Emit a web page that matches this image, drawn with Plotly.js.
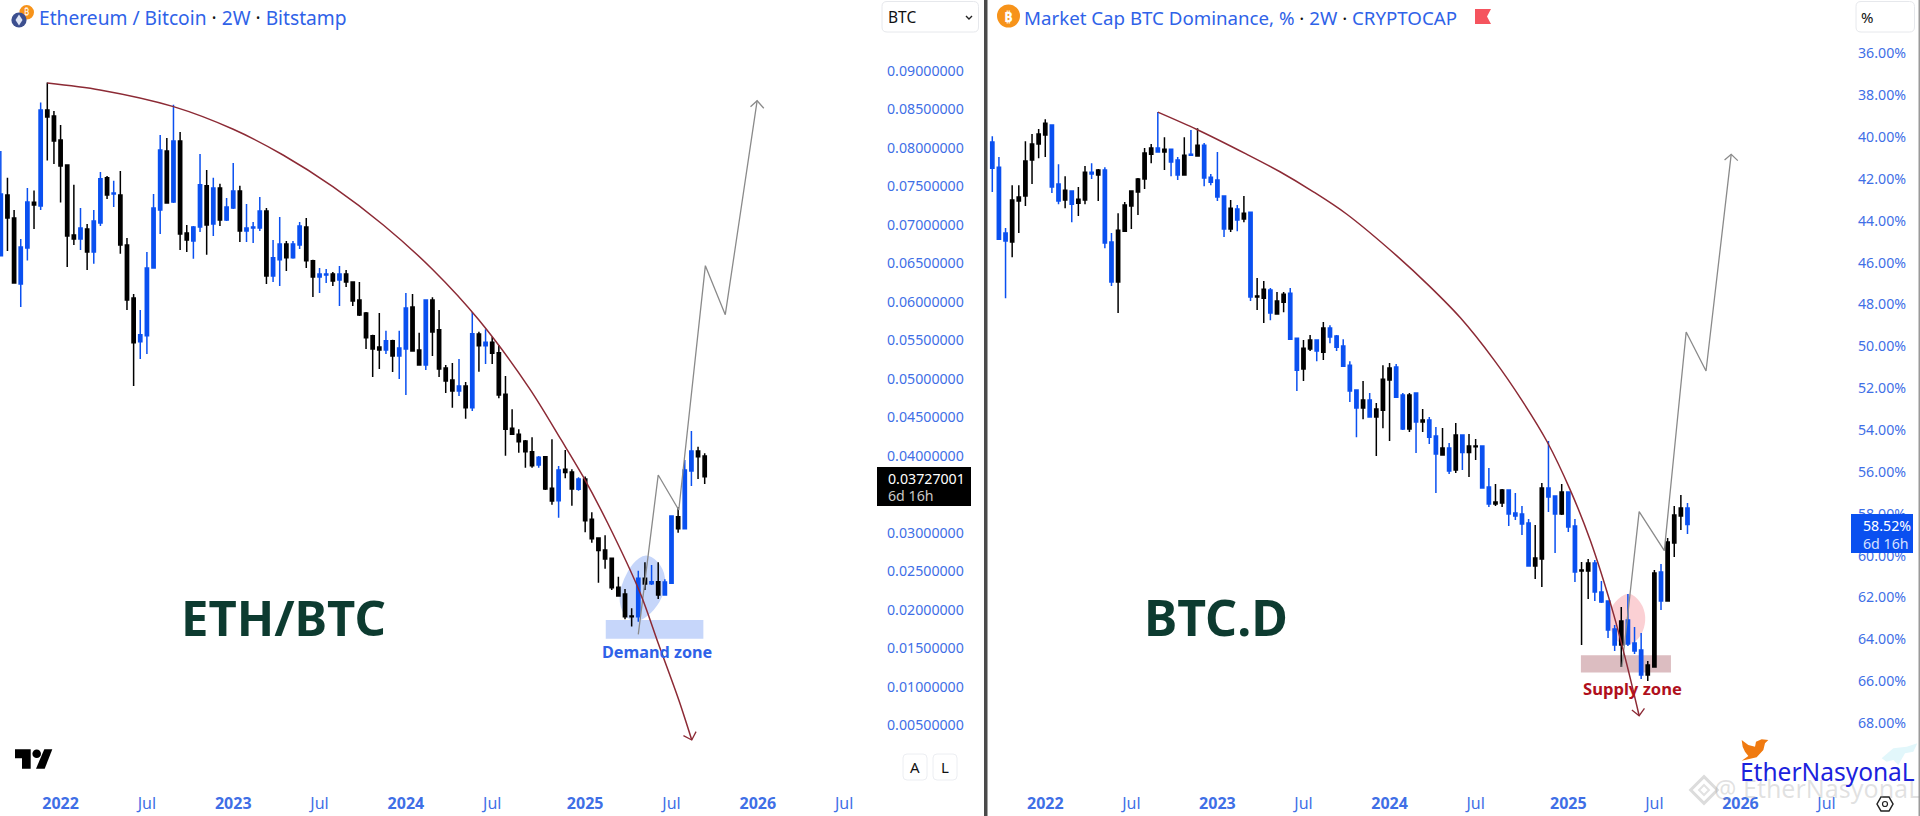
<!DOCTYPE html>
<html><head><meta charset="utf-8">
<script src="https://cdn.plot.ly/plotly-3.0.1.min.js"></script>
<style>html,body{margin:0;padding:0;background:#fff;overflow:hidden}#chart{width:1920px;height:816px}</style>
</head><body><div id="chart"></div>
<script>
const barDates=["2021-08-30","2021-09-13","2021-09-27","2021-10-11","2021-10-25","2021-11-08","2021-11-22","2021-12-06","2021-12-20",
"2022-01-03","2022-01-17","2022-01-31","2022-02-14","2022-02-28","2022-03-14","2022-03-28","2022-04-11","2022-04-25","2022-05-09","2022-05-23","2022-06-06","2022-06-20","2022-07-04","2022-07-18","2022-08-01","2022-08-15","2022-08-29","2022-09-12","2022-09-26","2022-10-10","2022-10-24","2022-11-07","2022-11-21","2022-12-05","2022-12-19",
"2023-01-02","2023-01-16","2023-01-30","2023-02-13","2023-02-27","2023-03-13","2023-03-27","2023-04-10","2023-04-24","2023-05-08","2023-05-22","2023-06-05","2023-06-19","2023-07-03","2023-07-17","2023-07-31","2023-08-14","2023-08-28","2023-09-11","2023-09-25","2023-10-09","2023-10-23","2023-11-06","2023-11-20","2023-12-04","2023-12-18",
"2024-01-01","2024-01-15","2024-01-29","2024-02-12","2024-02-26","2024-03-11","2024-03-25","2024-04-08","2024-04-22","2024-05-06","2024-05-20","2024-06-03","2024-06-17","2024-07-01","2024-07-15","2024-07-29","2024-08-12","2024-08-26","2024-09-09","2024-09-23","2024-10-07","2024-10-21","2024-11-04","2024-11-18","2024-12-02","2024-12-16","2024-12-30",
"2025-01-13","2025-01-27","2025-02-10","2025-02-24","2025-03-10","2025-03-24","2025-04-07","2025-04-21","2025-05-05","2025-05-19","2025-06-02","2025-06-16","2025-06-30","2025-07-14","2025-07-28","2025-08-11","2025-08-25","2025-09-08","2025-09-22"];

const ethOpen=[0.06595,0.07387,0.07088,0.06231,0.06698,0.07291,0.07244,
0.08491,0.08413,0.08101,0.07776,0.06867,0.06815,0.06945,0.06646,0.07023,0.07608,
0.074,0.07387,0.06737,0.06049,0.05478,0.05556,0.06439,0.07192,0.07958,0.07296,
0.08088,0.06893,0.06789,0.06971,0.07504,0.0701,0.07478,0.07062,0.07218,0.07439,
0.06919,0.06958,0.06958,0.07179,0.06335,0.06543,0.0675,0.06569,0.06737,0.06971,
0.0653,0.06322,0.06348,0.06361,0.06283,0.06361,0.06257,0.06023,0.05854,0.05556,
0.05413,0.05374,0.05491,0.05296,0.05387,0.05932,0.05374,0.05179,0.06023,0.05634,
0.0514,0.04984,0.04841,0.04906,0.04621,0.0558,0.05429,0.05472,0.05338,0.04797,
0.04355,0.04277,0.04191,0.04052,0.03879,0.03987,0.03576,0.03416,0.03823,0.03788,
0.03563,0.03697,0.03173,0.02931,0.02775,0.02667,0.0229,0.02204,0.01918,0.01909,
0.02407,0.02338,0.02364,0.02191,0.02342,0.03208,0.03052,0.03801,0.04061,0.03996];
const ethHigh=[0.07958,0.07608,0.07192,0.06815,0.07478,0.07443,0.08586,
0.08846,0.08478,0.08296,0.07776,0.07517,0.07218,0.0701,0.07192,0.07685,0.07633,
0.07569,0.07698,0.06828,0.06101,0.05893,0.06646,0.074,0.08166,0.08127,0.08556,
0.08205,0.06997,0.06984,0.07919,0.07711,0.07608,0.0753,0.07348,0.07802,0.07504,
0.0727,0.07036,0.07361,0.07218,0.06802,0.07101,0.06789,0.06789,0.07036,0.07088,
0.06543,0.06439,0.06426,0.06387,0.06465,0.06413,0.06266,0.06257,0.05867,0.05569,
0.05854,0.05621,0.05504,0.05621,0.06114,0.06101,0.05595,0.06023,0.06058,0.05893,
0.05179,0.05205,0.05257,0.04958,0.05867,0.05611,0.05641,0.05546,0.05438,0.05035,
0.04602,0.04342,0.04204,0.04238,0.03996,0.03996,0.04212,0.03866,0.04074,0.03823,
0.03719,0.03728,0.03264,0.0294,0.02966,0.02667,0.02429,0.02269,0.02018,0.02507,
0.02615,0.0258,0.02615,0.02394,0.03217,0.03329,0.03944,0.04321,0.04117,0.04031];
const ethLow=[0.06586,0.06659,0.06244,0.05932,0.06534,0.06945,0.07192,
0.07833,0.07789,0.07287,0.06452,0.06737,0.06672,0.06413,0.06491,0.06984,0.07335,
0.07231,0.06621,0.05893,0.04906,0.05257,0.05322,0.06439,0.0688,0.07283,0.07283,
0.06672,0.06646,0.06556,0.06906,0.06608,0.06854,0.06984,0.07049,0.07205,0.06776,
0.06776,0.06763,0.06919,0.06231,0.06257,0.06205,0.064,0.06556,0.06685,0.06439,
0.06062,0.06114,0.06244,0.06205,0.05945,0.06192,0.05945,0.05815,0.05387,0.05023,
0.05127,0.05322,0.05088,0.04997,0.04789,0.05361,0.05179,0.05114,0.05296,0.05023,
0.04815,0.04621,0.04776,0.04478,0.04581,0.05091,0.05191,0.05191,0.04745,0.04,
0.04277,0.04039,0.03844,0.03844,0.03844,0.03554,0.03364,0.03195,0.03706,0.03351,
0.03546,0.03005,0.0287,0.02351,0.02533,0.02256,0.02169,0.01875,0.0178,0.01844,
0.02256,0.02321,0.02139,0.02191,0.02334,0.03,0.03052,0.03606,0.03697,0.03632];
const ethClose=[0.074,0.07088,0.06244,0.06711,0.07296,0.07257,0.08491,
0.084,0.08088,0.07763,0.06854,0.06815,0.06958,0.06646,0.07049,0.07595,0.07387,
0.07413,0.06737,0.06023,0.05465,0.05569,0.06439,0.07218,0.07971,0.07283,0.08088,
0.0688,0.06802,0.06971,0.07517,0.06997,0.07478,0.07062,0.07231,0.07439,0.06919,
0.06958,0.06971,0.07179,0.06335,0.06569,0.0675,0.06569,0.0675,0.06984,0.0653,
0.06322,0.06361,0.06361,0.0627,0.06361,0.06257,0.0601,0.05828,0.0553,0.05387,
0.05374,0.05491,0.05296,0.054,0.05919,0.05361,0.05179,0.06023,0.05607,0.05127,
0.04971,0.04841,0.04906,0.04621,0.05582,0.05429,0.05472,0.05329,0.04788,0.04342,
0.04277,0.04182,0.04052,0.0387,0.03979,0.03567,0.03412,0.03814,0.0378,0.03567,
0.03697,0.03156,0.02922,0.02767,0.02658,0.02286,0.02178,0.01909,0.01909,0.02407,
0.02334,0.02364,0.02191,0.0236,0.03217,0.03052,0.03814,0.04061,0.03987,0.03727001];

const domOpen=[40.24,41.44,44.59,45.02,43.06,42.82,41.10,40.34,39.91,39.43,
42.25,43.01,42.58,43.16,43.01,41.68,41.82,41.58,45.02,46.93,
44.50,43.30,42.63,42.01,40.82,40.53,40.72,40.58,41.10,41.82,
40.82,40.91,40.39,41.92,42.06,42.82,44.40,43.44,43.92,43.59,
47.65,47.70,47.31,48.46,47.89,47.46,49.61,51.09,50.13,49.70,
50.28,49.13,49.51,49.99,50.90,52.09,52.95,52.57,53.38,53.05,
51.61,50.99,52.33,53.95,52.23,53.62,53.52,54.29,55.19,54.86,
55.91,54.24,55.08,54.80,54.76,56.72,57.54,57.49,56.87,57.97,
58.01,58.44,60.50,60.16,56.77,57.15,58.01,56.96,58.59,60.74,
60.74,60.35,61.74,62.17,63.51,64.27,63.08,64.18,64.51,65.70,
65.32,60.78,62.17,59.40,58.11,57.73];
const domHigh=[42.63,44.88,47.70,45.74,44.59,43.30,42.25,41.01,40.96,42.68,
43.21,43.40,44.07,43.78,43.21,42.01,43.06,45.31,47.12,48.41,
44.50,44.40,43.73,42.49,41.25,40.72,41.58,41.87,42.06,41.82,
40.91,40.91,42.35,42.30,43.06,44.78,44.54,44.50,44.07,47.84,
48.27,48.89,48.75,48.46,48.37,49.70,52.14,51.66,50.23,50.71,
50.66,49.85,50.23,50.95,52.66,54.34,53.48,53.38,55.24,53.91,
54.53,52.43,54.00,54.10,55.10,54.10,54.67,57.01,55.19,56.10,
56.05,55.91,56.25,55.43,56.77,57.68,57.63,57.68,58.59,58.30,
59.02,60.50,61.12,61.50,57.92,59.88,58.06,58.87,61.26,64.27,
62.07,62.17,62.27,63.94,64.56,65.32,64.32,64.70,65.89,65.99,
65.32,62.60,62.17,60.07,58.78,58.97];
const domLow=[39.96,40.96,44.35,42.30,42.30,40.20,39.86,39.62,39.15,39.43,
41.30,41.87,42.58,42.39,41.39,41.25,41.53,41.44,44.59,43.64,
43.11,42.58,41.96,40.53,40.34,38.81,40.01,40.58,40.96,40.01,
39.67,39.58,40.29,41.77,40.72,42.78,43.01,43.25,42.82,43.59,
46.74,46.88,47.22,47.41,47.41,47.22,49.61,49.70,49.46,49.66,
48.84,48.99,49.46,49.66,50.71,52.09,51.66,52.23,52.71,50.90,
50.80,50.85,52.23,52.23,52.23,53.00,53.38,53.86,53.90,54.62,
53.67,54.24,54.19,54.43,54.76,55.82,56.58,56.82,56.87,57.01,
57.63,58.25,58.54,56.53,54.53,57.15,56.58,56.96,58.25,60.31,
60.16,60.21,61.21,62.17,63.31,62.46,61.83,63.41,63.70,65.04,
60.69,60.40,59.16,57.63,57.11,57.49];
const domClose=[41.49,44.88,44.97,43.01,42.87,41.15,40.34,39.86,39.34,42.39,
43.06,42.54,43.21,42.97,41.68,41.77,41.58,45.07,46.93,44.45,
43.25,42.58,42.01,40.77,40.53,40.72,40.58,41.20,41.82,40.87,
40.87,40.39,41.96,42.16,42.87,44.40,43.40,43.97,43.64,47.65,
47.60,47.27,48.41,47.84,47.51,49.66,51.14,50.09,49.70,50.23,
49.13,49.56,50.04,50.95,52.14,52.95,52.57,53.38,53.00,51.57,
51.04,52.43,53.95,52.33,53.62,53.52,54.34,55.15,54.86,55.96,
54.24,55.08,54.76,54.76,56.77,57.54,57.44,56.87,58.01,58.11,
58.49,60.50,60.12,56.77,57.20,58.01,56.96,58.63,60.78,60.69,
60.35,61.74,62.22,63.55,64.27,63.13,64.22,64.56,65.70,65.23,
60.83,62.17,59.35,58.06,57.73,58.52];

// bar positions are counted in bars from the Dec 2021 bar (left chart) or from the first bar of the right chart
const ethCurveBar=[0,7.94,19,28,35.5,43,50.6,58.1,65,72.6,77.4,80.7,84.4,89.3,92,95.1,97.05];
const ethCurvePrice=[0.0884,0.0875,0.08533,0.08239,0.07905,0.07494,0.06996,0.06412,0.05762,0.04875,0.04204,0.03727,0.03122,0.02213,0.01564,0.00827,0.00308];
const ethCurveHeadBar=[95.8,97.05,97.7];
const ethCurveHeadPrice=[0.00364,0.00308,0.00416];
const ethPathBar=[89,92,95.1,99.1,102.1,106.9];
const ethPathPrice=[0.0168,0.03749,0.03295,0.06468,0.05831,0.0861];
const ethPathHeadBar=[105.9,106.9,107.9];
const ethPathHeadPrice=[0.08532,0.0861,0.08512];
const ethBlobBar=[90,91.8,92.9,92.4,90.8,88.8,87,86.3,87,88.3];
const ethBlobPrice=[0.02688,0.02603,0.02408,0.02169,0.01974,0.01866,0.01953,0.02169,0.02386,0.0258];

const domCurveBar=[25,30.9,38.4,43.45,48.5,53.5,61.1,66.1,70.7,75.8,79.97,83.8,87.3,90.3,93.8,95.8,97.7];
const domCurveValue=[38.81,39.64,40.82,41.66,42.62,43.68,45.68,47.15,48.64,50.66,52.57,54.56,56.87,59.26,62.76,65.15,67.65];
const domCurveHeadBar=[96.6,97.7,98.5];
const domCurveHeadValue=[67.38,67.65,67.30];
const domPathBar=[95.1,97.7,101.5,104.8,107.8,111.6];
const domPathValue=[65.32,57.9,59.76,49.32,51.18,40.83];
const domPathHeadBar=[110.6,111.6,112.6];
const domPathHeadValue=[41.10,40.83,41.13];
const domBlobBar=[96.1,97.8,98.5,98.1,96.8,95.1,93.8,93.2,94.1];
const domBlobValue=[61.83,62.28,62.92,63.63,64.11,64.19,63.71,62.92,62.28];

const ethTicks=[0.005,0.01,0.015,0.02,0.025,0.03,0.035,0.04,0.045,0.05,0.055,0.06,0.065,0.07,0.075,0.08,0.085,0.09];
const domTicks=[36,38,40,42,44,46,48,50,52,54,56,58,60,62,64,66,68];
const timeTickDates=["2022-01-03","2022-07-04","2023-01-02","2023-07-03","2024-01-01","2024-07-01","2025-01-13","2025-07-14","2026-01-12","2026-07-13"];
const timeTickLabels=["<b>2022</b>","Jul","<b>2023</b>","Jul","<b>2024</b>","Jul","<b>2025</b>","Jul","<b>2026</b>","Jul"];

const FONT='"Noto Sans", sans-serif';
const UP='#0a50f0',DOWN='#000000',AXIS='#3f6fe6',CURVE='#8c2a35',PATH='#8a8a8a';
const W=1920,H=816,BOTTOM=785;
const DAY=864e5,ANCHOR=Date.UTC(2021,11,6);
const barTime=b=>new Date(ANCHOR+b*14*DAY).toISOString().slice(0,19).replace('T',' ');
const leftX=a=>a.map(b=>barTime(b));
const rightX=a=>a.map(b=>barTime(b-6));
const px=x=>x/W, py=y=>1-y/H;

function candles(x,o,h,l,c,xa,ya){
  return {type:'candlestick',x:x,open:o,high:h,low:l,close:c,xaxis:xa,yaxis:ya,whiskerwidth:0,hoverinfo:'skip',showlegend:false,
    increasing:{line:{color:UP,width:1.5},fillcolor:UP},decreasing:{line:{color:DOWN,width:1.5},fillcolor:DOWN}};
}
function line(x,y,xa,ya,color,w,shape){
  return {type:'scatter',mode:'lines',x:x,y:y,xaxis:xa,yaxis:ya,hoverinfo:'skip',showlegend:false,line:{color:color,width:w,shape:shape||'linear',smoothing:0.9}};
}
// smooth closed outline behind the candles, through the library's own axes
function blobShape(bars,vals,offset,xa,ya,color){
  const n=bars.length,g=1.1;
  const cb=bars.reduce((a,b)=>a+b,0)/n,cv=vals.reduce((a,b)=>a+b,0)/n;
  const B=bars.map(b=>cb+(b-cb)*g),V=vals.map(v=>cv+(v-cv)*g);
  const pt=(b,v)=>barTime(b+offset).replace(' ','_')+','+v;
  const mid=i=>{const j=(i+1)%n;return pt((B[i]+B[j])/2,(V[i]+V[j])/2);};
  let d='M'+mid(n-1);
  for(let i=0;i<n;i++)d+=' Q'+pt(B[i],V[i])+' '+mid(i);
  return {type:'path',xref:xa,yref:ya,path:d+' Z',fillcolor:color,line:{width:0},layer:'below'};
}
const traces=[
  candles(barDates,ethOpen,ethHigh,ethLow,ethClose,'x','y'),
  candles(barDates.slice(1),domOpen,domHigh,domLow,domClose,'x2','y2'),
  line(leftX(ethPathBar),ethPathPrice,'x','y',PATH,1.3),
  line(leftX(ethPathHeadBar),ethPathHeadPrice,'x','y',PATH,1.3),
  line(rightX(domPathBar),domPathValue,'x2','y2',PATH,1.3),
  line(rightX(domPathHeadBar),domPathHeadValue,'x2','y2',PATH,1.3),
  line(leftX(ethCurveBar),ethCurvePrice,'x','y',CURVE,1.5,'spline'),
  line(leftX(ethCurveHeadBar),ethCurveHeadPrice,'x','y',CURVE,1.3),
  line(rightX(domCurveBar),domCurveValue,'x2','y2',CURVE,1.5,'spline'),
  line(rightX(domCurveHeadBar),domCurveHeadValue,'x2','y2',CURVE,1.3)
];

function T(text,x,y,o){o=o||{};return {xref:'paper',yref:'paper',x:px(x),y:py(y),text:text,showarrow:false,
  xanchor:o.a||'center',yanchor:'middle',borderpad:0,font:{family:o.f||FONT,size:o.s||14,color:o.c||'#000'}};}
const BLUE='#2f62e8';
const dot='<span style="color:#111">·</span>';
const annotations=[
  T('Ethereum / Bitcoin '+dot+' 2W '+dot+' Bitstamp',38,17,{a:'left',s:19.2,c:BLUE}),
  T('Market Cap BTC Dominance, % '+dot+' 2W '+dot+' CRYPTOCAP',1023,17,{a:'left',s:18.7,c:BLUE}),
  T('BTC',887,17,{a:'left',s:15.5,c:'#111'}),
  T('%',1860,17,{a:'left',s:15,c:'#111'}),
  T('<b>ETH/BTC</b>',283,617,{s:49,c:'#0d3b30'}),
  T('<b>BTC.D</b>',1216,617,{s:50,c:'#0d3b30'}),
  T('<b>Demand zone</b>',657,652,{s:16.2,c:'#2f62e8'}),
  T('<b>Supply zone</b>',1632,688,{s:16.6,c:'#b0101c'}),
  T('0.03727001',887,478,{a:'left',s:14.2,c:'#fff'}),
  T('6d 16h',887,496,{a:'left',s:14.2,c:'#c8c8c8'}),
  T('58.52%',1862,525,{a:'left',s:14.2,c:'#fff'}),
  T('6d 16h',1862,543,{a:'left',s:14.2,c:'#d5e0ff'}),
  T('A',915,767,{s:15,c:'#111'}),
  T('L',945,767,{s:15,c:'#111'}),
  T('₿',26.7,12,{s:9,c:'#fff'}),
  T('<b>₿</b>',1008.5,16,{s:15,c:'#fff'}),
  T('@ EtherNasyonaL',1817,788,{s:25,c:'rgba(150,150,150,0.28)'}),
  T('EtherNasyonaL',1827,771,{s:24.5,c:'#1b22dd'})
];

const P=(pts,close)=>pts.map((p,i)=>(i?'L':'M')+px(p[0])+','+py(p[1])).join(' ')+(close?' Z':'');
function poly(pts,fill,lineColor,w){return {type:'path',xref:'paper',yref:'paper',path:P(pts,true),fillcolor:fill,line:{color:lineColor||fill,width:w==null?0:w},layer:'above'};}
function circ(cx,cy,r,fill,lineColor,w){return {type:'circle',xref:'paper',yref:'paper',x0:px(cx-r),x1:px(cx+r),y0:py(cy+r),y1:py(cy-r),fillcolor:fill,line:{color:lineColor||fill,width:w||0},layer:'above'};}
function rect(x0,y0,x1,y1,fill,lineColor,w){return {type:'rect',xref:'paper',yref:'paper',x0:px(x0),x1:px(x1),y0:py(y1),y1:py(y0),fillcolor:fill,line:{color:lineColor||fill,width:w||0},layer:'above'};}
function rrect(x0,y0,x1,y1,r,lineColor){
  const a=(x,y)=>px(x)+','+py(y);
  return {type:'path',xref:'paper',yref:'paper',layer:'above',fillcolor:'#fff',line:{color:lineColor,width:1},
    path:'M'+a(x0+r,y0)+' L'+a(x1-r,y0)+' Q'+a(x1,y0)+' '+a(x1,y0+r)+' L'+a(x1,y1-r)+' Q'+a(x1,y1)+' '+a(x1-r,y1)+' L'+a(x0+r,y1)+' Q'+a(x0,y1)+' '+a(x0,y1-r)+' L'+a(x0,y0+r)+' Q'+a(x0,y0)+' '+a(x0+r,y0)+' Z'};
}
const Z=(a)=>a.map(p=>[1440+p[0]/3,400+p[1]/3]);
const shapes=[
  blobShape(ethBlobBar,ethBlobPrice,0,'x','y','#c6d6fa'),
  blobShape(domBlobBar,domBlobValue,-6,'x2','y2','#fbd0d4'),
  {type:'rect',xref:'x',yref:'y',x0:barTime(84.1),x1:barTime(98.8),y0:0.01623,y1:0.01866,fillcolor:'#c6d6fa',line:{width:0},layer:'below'},
  {type:'rect',xref:'x2',yref:'y2',x0:barTime(88.9-6),x1:barTime(102.5-6),y0:64.76,y1:65.59,fillcolor:'#dcbdc1',line:{width:0},layer:'below'},
  rect(984,0,987.5,816,'#4a4a4a'),
  rect(1918.5,0,1920,816,'#9a9a9a'),
  rect(877,467,971,506,'#000000'),
  rect(1851,514,1913,553,'#0a50f0'),
  rrect(882,1.5,978.5,32,5,'#e6e8ec'),
  rrect(1856,1.5,1914.5,32,5,'#e6e8ec'),
  rrect(903,754,927,780,4,'#eceef2'),
  rrect(933,754,957,780,4,'#eceef2'),
  {type:'path',xref:'paper',yref:'paper',layer:'above',line:{color:'#222',width:1.4},path:P([[966,16],[969,19],[972,16]])},
  // symbol icons
  circ(26.7,12.3,7.3,'#f7931a'),
  circ(19,20,7.6,'#3c4f8f'),
  poly([[19,14.5],[22.5,20],[19,25.5],[15.5,20]],'#dfe5f5'),
  circ(1008.5,16,11.5,'#f7931a'),
  poly([[1475,9],[1491,9],[1487,16.5],[1491,24],[1475,24]],'#f5545e'),
  // TradingView mark
  poly([[15,749.3],[30.7,749.3],[30.7,768.7],[22,768.7],[22,758.3],[15,758.3]],'#000'),
  circ(36.7,753.7,4.3,'#000'),
  poly([[44.3,749.3],[52.3,749.3],[44.7,768.7],[36,768.7]],'#000'),
  // settings hexagon
  {type:'path',xref:'paper',yref:'paper',layer:'above',fillcolor:'rgba(0,0,0,0)',line:{color:'#222',width:1.5},path:P([[1877,804],[1881,797],[1889,797],[1893,804],[1889,811],[1881,811]],true)},
  {type:'circle',xref:'paper',yref:'paper',layer:'above',x0:px(1882.5),x1:px(1887.5),y0:py(806.5),y1:py(801.5),fillcolor:'rgba(0,0,0,0)',line:{color:'#222',width:1.2}},
  // bird and bull watermarks
  poly(Z([[905,1020],[925,1035],[945,1040],[948,1025],[965,1018],[985,1020],[975,1030],[970,1050],[950,1072],[905,1082],[925,1068],[915,1055],[908,1040]]),'#f07a10'),
  poly(Z([[1325,1075],[1360,1045],[1400,1040],[1432,1030],[1420,1055],[1395,1060],[1375,1095],[1360,1080],[1340,1085]]),'#e2f7fb'),
  {type:'path',xref:'paper',yref:'paper',layer:'above',fillcolor:'rgba(0,0,0,0)',line:{color:'#dcdcdc',width:3},path:P(Z([[792,1130],[832,1170],[792,1210],[752,1170]]),true)},
  {type:'path',xref:'paper',yref:'paper',layer:'above',fillcolor:'rgba(0,0,0,0)',line:{color:'#e2e2e2',width:2},path:P(Z([[792,1155],[807,1170],[792,1185],[777,1170]]),true)}
];

const tickFont={family:FONT,size:14.2,color:AXIS};
const xCommon={type:'date',tickmode:'array',tickvals:timeTickDates,ticktext:timeTickLabels,showgrid:false,zeroline:false,showline:false,ticks:'',tickfont:{family:FONT,size:16,color:AXIS},fixedrange:true,rangeslider:{visible:false},tickangle:0,ticklabelstandoff:7};
const yCommon={side:'right',tickmode:'array',showgrid:false,zeroline:false,showline:false,ticks:'',tickfont:tickFont,fixedrange:true,automargin:false};
const layout={
  width:W,height:H,autosize:false,margin:{l:0,r:0,t:0,b:0,pad:0},paper_bgcolor:'#fff',plot_bgcolor:'rgba(0,0,0,0)',showlegend:false,boxgap:0.3,hovermode:false,
  xaxis:Object.assign({},xCommon,{domain:[0,px(880)],anchor:'y',range:[barTime(-7.123),barTime(125.4)]}),
  yaxis:Object.assign({},yCommon,{domain:[py(BOTTOM),1],anchor:'x',range:[-0.00277,0.09918],tickvals:ethTicks,ticktext:ethTicks.map(v=>v.toFixed(8)),ticklabelstandoff:6}),
  xaxis2:Object.assign({},xCommon,{domain:[px(988),px(1855)],anchor:'y2',range:[barTime(-6.65),barTime(124.3)]}),
  yaxis2:Object.assign({},yCommon,{domain:[py(BOTTOM),1],anchor:'x2',range:[70.96,33.455],tickvals:domTicks,ticktext:domTicks.map(v=>v.toFixed(2)+'%'),ticklabelstandoff:2}),
  shapes:shapes,annotations:annotations
};
Plotly.newPlot('chart',traces,layout,{displayModeBar:false,staticPlot:true,responsive:false});
</script></body></html>
